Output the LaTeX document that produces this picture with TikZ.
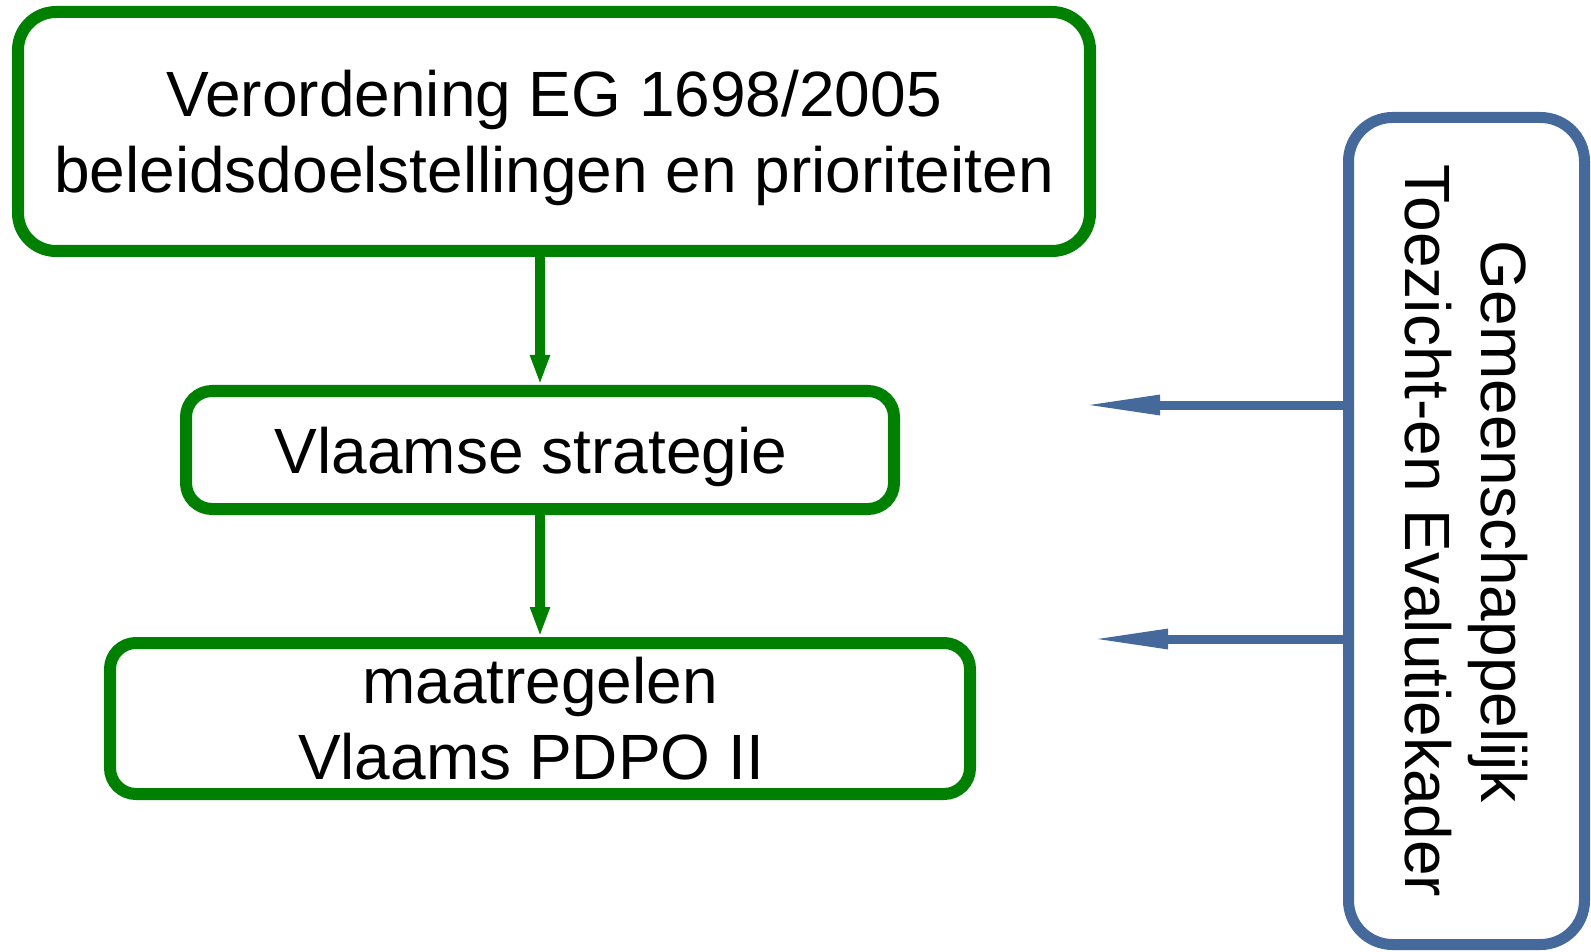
\documentclass[tikz,border=0pt]{standalone}
\usepackage{fontspec}
\setmainfont{Liberation Sans}
\usetikzlibrary{arrows.meta}

\definecolor{boxgreen}{RGB}{0,128,0}
\definecolor{boxblue}{RGB}{70,105,155}

\tikzset{
    greenbox/.style={draw=boxgreen, line width=6pt, rounded corners=#1, align=center, inner sep=0pt},
    bluebox/.style={draw=boxblue, line width=5.5pt, rounded corners=22pt, align=center, inner sep=0pt},
    greenarrow/.style={draw=boxgreen, line width=5pt, -{Triangle[length=15pt, width=9pt]}},
    bluearrow/.style={draw=boxblue, line width=4.5pt, -{Triangle[length=40pt, width=9pt]}}
}

% trailing blank as in the original slide
\newcommand{\trail}{\hspace*{9pt}}

\begin{document}
\begin{tikzpicture}[x=0.5pt, y=-0.5pt, font=\fontsize{32}{38}\selectfont]

    \useasboundingbox (0,0) rectangle (1591,952);

    % Green boxes
    \node[greenbox=19pt, text depth=0pt, minimum width=536pt, minimum height=119.5pt] (verordening) at (554,131.5)
        {Verordening EG 1698/2005\\beleidsdoelstellingen en prioriteiten};
    \node[greenbox=13pt, text depth=0pt, minimum width=354pt, minimum height=59pt] (strategie) at (540,450)
        {Vlaamse strategie\trail};
    \node[greenbox=13pt, minimum width=430pt, minimum height=75.5pt] (maatregelen) at (540,718.5)
        {maatregelen\\Vlaams PDPO II\trail};

    % Blue box
    \node[bluebox, rotate=-90, minimum width=413.5pt, minimum height=118pt] (kader) at (1466.5,531)
        {Gemeenschappelijk\trail\\Toezicht-en Evalutiekader};

    % Arrows
    \draw[greenarrow] (verordening.south -| strategie.north) -- (strategie.north);
    \draw[greenarrow] (strategie.south) -- (maatregelen.north -| strategie.south);

    \coordinate (tip1) at (1080,405);
    \coordinate (tip2) at (1088,639);
    \draw[bluearrow] (kader.south |- tip1) -- (tip1);
    \draw[bluearrow] (kader.south |- tip2) -- (tip2);

\end{tikzpicture}
\end{document}
